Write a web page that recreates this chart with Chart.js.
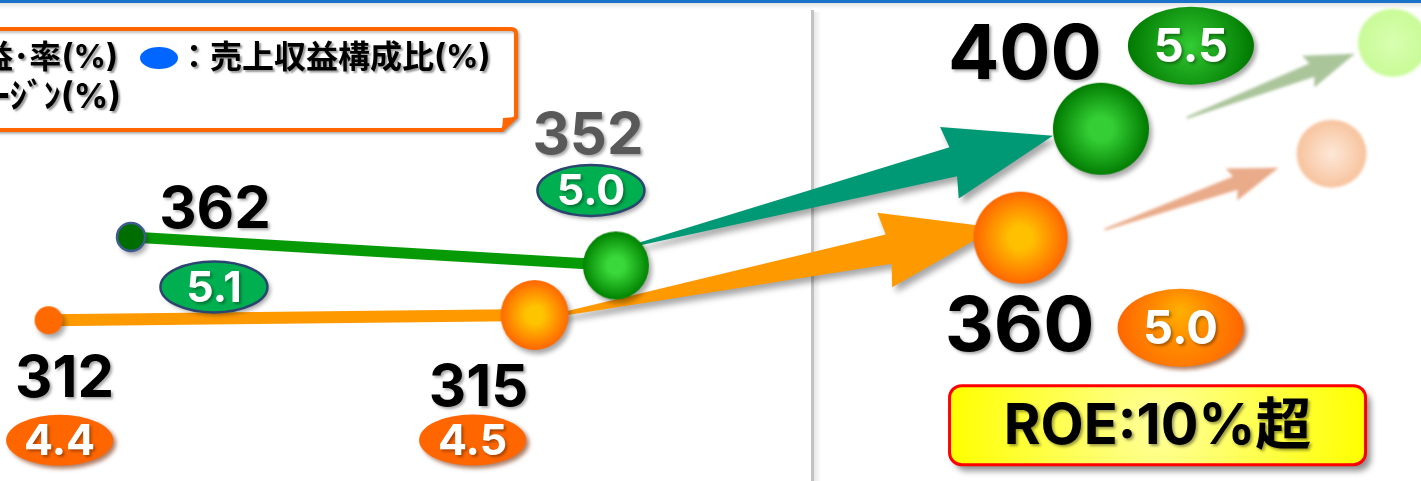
<!DOCTYPE html>
<html lang="ja">
<head>
<meta charset="utf-8">
<script src="https://cdn.jsdelivr.net/npm/chart.js@4.4.1/dist/chart.umd.min.js"></script>
<style>
  body { margin: 0; background: #fff; }
  #wrap { width: 1421px; height: 481px; }
</style>
</head>
<body>
<div id="wrap"><canvas id="chart" width="1421" height="481"></canvas></div>
<script>
// periods (not printed on the picture)
const periods = ['実績', '予想', '目標'];

// green series: profit and margin
const profitGreen = [362, 352, 400];
const marginGreen = [5.1, 5.0, 5.5];

// orange series: profit and margin
const profitOrange = [312, 315, 360];
const marginOrange = [4.4, 4.5, 5.0];

// label / decoration placement, offsets from each point in px
const layoutGreen = {
    num: [[84, -26], [-28, -129], [-76, -73]],
    oval: [[83, 50], [-25, -75], [90, -83]],
    numColor: ['#000', '#595959', '#000'],
    arrowTail: [14, -19], arrowTip: [-48, 7],
    fadeTail: [86, -11], fadeTip: [254, -75], fadeBall: [292, -86]
};
const layoutOrange = {
    num: [[16, 59], [-56, 74], [-1, 90]],
    oval: [[11, 120], [-62, 125], [160, 90]],
    numColor: ['#000', '#000', '#000'],
    arrowTail: [8, 3], arrowTip: [-24, -10],
    fadeTail: [84, -8], fadeTip: [258, -70], fadeBall: [311, -84]
};

const NUM_FONT = 'Inter, "Noto Sans CJK JP", sans-serif';

function ball(w, h, inner, outer, stroke) {
    const pad = 12;
    const c = document.createElement('canvas');
    c.width = w + pad * 2;
    c.height = h + pad * 2;
    const g = c.getContext('2d');
    const cx = c.width / 2, cy = c.height / 2;
    g.shadowColor = 'rgba(0,0,0,0.35)';
    g.shadowOffsetX = 3;
    g.shadowOffsetY = 4;
    g.shadowBlur = 5;
    const grad = g.createRadialGradient(cx, cy, 0, cx, cy, Math.max(w, h) / 2);
    grad.addColorStop(0, inner);
    grad.addColorStop(0.25, inner);
    grad.addColorStop(1, outer);
    g.fillStyle = grad;
    g.beginPath();
    g.ellipse(cx, cy, w / 2, h / 2, 0, 0, Math.PI * 2);
    g.fill();
    if (stroke) {
        g.shadowColor = 'transparent';
        g.lineWidth = 2.5;
        g.strokeStyle = stroke;
        g.stroke();
    }
    return c;
}

const ballsGreen = [
    ball(28, 28, '#006d00', '#006d00', '#3d5b8c'),
    ball(66, 68, '#3ad83a', '#008200'),
    ball(96, 92, '#35cf35', '#007a00')
];
const ballsOrange = [
    ball(28, 28, '#ff6a00', '#ff6a00'),
    ball(68, 70, '#ffc400', '#ff6600'),
    ball(94, 92, '#ffc000', '#ff6600')
];

function arrow(ctx, t, h, o) {
    const dx = h[0] - t[0], dy = h[1] - t[1];
    const len = Math.hypot(dx, dy);
    const ux = dx / len, uy = dy / len;
    const nx = -uy, ny = ux;
    const nk = [h[0] - ux * o.head, h[1] - uy * o.head];
    const bb = [h[0] - ux * (o.head + o.sweep), h[1] - uy * (o.head + o.sweep)];
    ctx.beginPath();
    ctx.moveTo(t[0] + nx * o.tail, t[1] + ny * o.tail);
    ctx.lineTo(nk[0] + nx * o.neck, nk[1] + ny * o.neck);
    ctx.lineTo(bb[0] + nx * o.wing, bb[1] + ny * o.wing);
    ctx.lineTo(h[0], h[1]);
    ctx.lineTo(bb[0] - nx * o.wing, bb[1] - ny * o.wing);
    ctx.lineTo(nk[0] - nx * o.neck, nk[1] - ny * o.neck);
    ctx.lineTo(t[0] - nx * o.tail, t[1] - ny * o.tail);
    ctx.closePath();
    ctx.fill();
}

function add(p, off) {
    return [p.x + off[0], p.y + off[1]];
}

function shadowText(ctx, text, x, y, font, color, sh) {
    ctx.save();
    ctx.font = font;
    ctx.textAlign = 'center';
    ctx.textBaseline = 'middle';
    ctx.shadowColor = sh || 'rgba(0,0,0,0.35)';
    ctx.shadowOffsetX = 2;
    ctx.shadowOffsetY = 2;
    ctx.shadowBlur = 3;
    ctx.fillStyle = color;
    ctx.fillText(text, x, y);
    ctx.restore();
}

function oval(ctx, cx, cy, w, h, fill, stroke, text, size, shadow) {
    ctx.save();
    ctx.shadowColor = shadow;
    ctx.shadowOffsetX = 3;
    ctx.shadowOffsetY = 3;
    ctx.shadowBlur = 4;
    ctx.beginPath();
    ctx.ellipse(cx, cy, w / 2, h / 2, 0, 0, Math.PI * 2);
    ctx.fillStyle = fill;
    ctx.fill();
    if (stroke) {
        ctx.shadowColor = 'transparent';
        ctx.lineWidth = 2.5;
        ctx.strokeStyle = stroke;
        ctx.stroke();
    }
    ctx.restore();
    shadowText(ctx, text, cx, cy + 2, `bold ${size}px ${NUM_FONT}`, '#fff', 'rgba(0,0,0,0.35)');
}

const decoPlugin = {
    id: 'deco',
    beforeDraw(chart) {
        const ctx = chart.ctx;
        ctx.save();
        ctx.fillStyle = '#fff';
        ctx.fillRect(0, 0, chart.width, chart.height);
        // top rule
        ctx.fillStyle = '#1a73c9';
        ctx.fillRect(0, 0, chart.width, 3);
        const g = ctx.createLinearGradient(0, 3, 0, 9);
        g.addColorStop(0, '#e2e2e2');
        g.addColorStop(1, '#ffffff');
        ctx.fillStyle = g;
        ctx.fillRect(0, 3, chart.width, 6);
        // divider between results and target
        const dx = Math.round(chart.scales.xg.getPixelForValue(1.405));
        const sg = ctx.createLinearGradient(dx, 0, dx + 9, 0);
        sg.addColorStop(0, 'rgba(0,0,0,0.12)');
        sg.addColorStop(1, 'rgba(0,0,0,0)');
        ctx.fillStyle = sg;
        ctx.fillRect(dx + 2, 12, 9, chart.height);
        ctx.fillStyle = '#c2c2c2';
        ctx.fillRect(dx - 1, 10, 3, chart.height);
        ctx.restore();
    },
    beforeDatasetsDraw(chart) {
        const ctx = chart.ctx;
        const sets = [
            { meta: chart.getDatasetMeta(0), lay: layoutGreen, color: '#009975',
              head: 103, wing: 37, neck: 15,
              fade: 'rgba(150,182,130,0.8)', ballIn: '#d8ffb0', ballOut: '#c8fa96' },
            { meta: chart.getDatasetMeta(1), lay: layoutOrange, color: '#ff9900',
              head: 110, wing: 38, neck: 15,
              fade: 'rgba(228,150,108,0.8)', ballIn: '#fde8d8', ballOut: '#f7c29c' }
        ];
        sets.forEach(function(s) {
            const p1 = s.meta.data[1], p2 = s.meta.data[2];
            ctx.save();
            ctx.shadowColor = 'rgba(0,0,0,0.35)';
            ctx.shadowOffsetX = 4;
            ctx.shadowOffsetY = 5;
            ctx.shadowBlur = 6;
            ctx.fillStyle = s.color;
            arrow(ctx, add(p1, s.lay.arrowTail), add(p2, s.lay.arrowTip),
                { head: s.head, sweep: 4, wing: s.wing, neck: s.neck, tail: 1 });
            ctx.restore();

            // faded arrow and ball toward the next stage
            ctx.save();
            ctx.filter = 'blur(1.5px)';
            ctx.fillStyle = s.fade;
            arrow(ctx, add(p2, s.lay.fadeTail), add(p2, s.lay.fadeTip),
                { head: 46, sweep: 4, wing: 17, neck: 7, tail: 1 });
            const fb = add(p2, s.lay.fadeBall);
            const rg = ctx.createRadialGradient(fb[0], fb[1], 0, fb[0], fb[1], 35);
            rg.addColorStop(0, s.ballIn);
            rg.addColorStop(1, s.ballOut);
            ctx.fillStyle = rg;
            ctx.beginPath();
            ctx.ellipse(fb[0], fb[1], 35, 34, 0, 0, Math.PI * 2);
            ctx.fill();
            ctx.restore();
        });
    },
    afterDatasetsDraw(chart) {
        const ctx = chart.ctx;
        const sets = [
            { meta: chart.getDatasetMeta(0), lay: layoutGreen, vals: profitGreen, marg: marginGreen, kind: 'g' },
            { meta: chart.getDatasetMeta(1), lay: layoutOrange, vals: profitOrange, marg: marginOrange, kind: 'o' }
        ];
        sets.forEach(function(s) {
            s.meta.data.forEach(function(pt, i) {
                const big = i === 2;
                const n = add(pt, s.lay.num[i]);
                shadowText(ctx, String(s.vals[i]), n[0], n[1],
                    `bold ${big ? 76 : 58}px ${NUM_FONT}`, s.lay.numColor[i]);
                const o = add(pt, s.lay.oval[i]);
                const w = big ? 126 : 107, h = big ? 78 : 51;
                let fill, stroke = null, shadow;
                if (s.kind === 'g') {
                    if (big) {
                        fill = ctx.createRadialGradient(o[0], o[1], 0, o[0], o[1], w / 2);
                        fill.addColorStop(0, '#33cc33');
                        fill.addColorStop(0.3, '#22b022');
                        fill.addColorStop(1, '#007800');
                    } else {
                        fill = '#00b050';
                        stroke = '#2c4470';
                    }
                    shadow = 'rgba(0,0,0,0.35)';
                } else {
                    if (big) {
                        fill = ctx.createRadialGradient(o[0], o[1] - 18, 0, o[0], o[1], w / 2);
                        fill.addColorStop(0, '#ffb000');
                        fill.addColorStop(0.45, '#ff8a00');
                        fill.addColorStop(1, '#ff6600');
                    } else {
                        fill = '#ff6600';
                    }
                    shadow = 'rgba(120,40,0,0.6)';
                }
                oval(ctx, o[0], o[1], w, h, fill, stroke, s.marg[i].toFixed(1), big ? 47 : 43, shadow);
            });
        });
    },
    afterDraw(chart) {
        const ctx = chart.ctx;
        // ROE box under the orange target
        const o2 = chart.getDatasetMeta(1).data[2];
        const bx = o2.x - 71, by = o2.y + 148, bw = 416, bh = 79;
        ctx.save();
        ctx.shadowColor = 'rgba(0,0,0,0.45)';
        ctx.shadowOffsetX = 5;
        ctx.shadowOffsetY = 6;
        ctx.shadowBlur = 6;
        const yg = ctx.createRadialGradient(bx + bw / 2, by + bh / 2, 0, bx + bw / 2, by + bh / 2, bw / 2);
        yg.addColorStop(0, '#ffff9c');
        yg.addColorStop(1, '#ffff00');
        ctx.fillStyle = yg;
        ctx.beginPath();
        ctx.roundRect(bx, by, bw, bh, 12);
        ctx.fill();
        ctx.shadowColor = 'transparent';
        ctx.lineWidth = 3;
        ctx.strokeStyle = '#ff0000';
        ctx.stroke();
        ctx.restore();
        shadowText(ctx, 'ROE:10%超', bx + bw / 2, by + bh / 2 + 2, `bold 56px ${NUM_FONT}`, '#000', 'rgba(0,0,0,0.4)');

        // legend box (partly outside the left edge)
        ctx.save();
        ctx.shadowColor = 'rgba(0,0,0,0.25)';
        ctx.shadowOffsetX = 2;
        ctx.shadowOffsetY = 2;
        ctx.shadowBlur = 3;
        ctx.fillStyle = '#fff';
        ctx.strokeStyle = '#ff6600';
        ctx.lineWidth = 4;
        ctx.beginPath();
        ctx.moveTo(-20, 29);
        ctx.lineTo(511, 29);
        ctx.quadraticCurveTo(516, 29, 516, 34);
        ctx.lineTo(516, 117);
        ctx.lineTo(502, 130);
        ctx.lineTo(-20, 130);
        ctx.closePath();
        ctx.fill();
        ctx.stroke();
        ctx.shadowColor = 'transparent';
        ctx.fillStyle = '#ff6600';
        ctx.beginPath();
        ctx.moveTo(516, 117);
        ctx.lineTo(503, 118);
        ctx.lineTo(502, 130);
        ctx.closePath();
        ctx.fill();
        ctx.fillStyle = '#0066ff';
        ctx.beginPath();
        ctx.ellipse(159, 58, 19, 11, 0, 0, Math.PI * 2);
        ctx.fill();
        ctx.restore();

        ctx.save();
        ctx.font = `bold 32px ${NUM_FONT}`;
        ctx.textBaseline = 'middle';
        ctx.fillStyle = '#000';
        ctx.shadowColor = 'rgba(0,0,0,0.4)';
        ctx.shadowOffsetX = 2;
        ctx.shadowOffsetY = 2;
        ctx.shadowBlur = 2;
        ctx.textAlign = 'right';
        ctx.fillText('数値：営業利益･率(%)', 118, 58);
        ctx.font = `bold 34px ${NUM_FONT}`;
        ctx.fillText('楕円：営業利益ﾏｰｼﾞﾝ(%)', 121, 98);
        ctx.font = `bold 32px ${NUM_FONT}`;
        ctx.textAlign = 'left';
        ctx.fillText('：売上収益構成比(%)', 178, 58);
        ctx.restore();
    }
};

const chart = new Chart(document.getElementById('chart'), {
    type: 'line',
    data: {
        datasets: [
            {
                label: 'green',
                data: periods.map((p, i) => ({ x: i, y: profitGreen[i] })),
                xAxisID: 'xg',
                yAxisID: 'yg',
                borderColor: '#079a07',
                borderWidth: 11,
                pointStyle: ballsGreen,
                pointRadius: 20,
                clip: false,
                segment: {
                    borderColor: c => c.p0DataIndex === 0 ? '#079a07' : 'rgba(0,0,0,0)'
                }
            },
            {
                label: 'orange',
                data: periods.map((p, i) => ({ x: i, y: profitOrange[i] })),
                xAxisID: 'xo',
                yAxisID: 'yo',
                borderColor: '#ff9900',
                borderWidth: 12,
                pointStyle: ballsOrange,
                pointRadius: 20,
                clip: false,
                segment: {
                    borderColor: c => c.p0DataIndex === 0 ? '#ff9900' : 'rgba(0,0,0,0)'
                }
            }
        ]
    },
    options: {
        responsive: false,
        animation: false,
        devicePixelRatio: 1,
        events: [],
        layout: { padding: 0, autoPadding: false },
        plugins: { legend: { display: false }, tooltip: { enabled: false } },
        scales: {
            xg: { type: 'linear', display: false, min: -0.270, max: 2.660 },
            yg: { type: 'linear', display: false, min: 276.3, max: 445.2 },
            xo: { type: 'linear', display: false, min: -0.100, max: 2.824 },
            yo: { type: 'linear', display: false, min: 218.5, max: 498.2 }
        }
    },
    plugins: [decoPlugin]
});
</script>
</body>
</html>
